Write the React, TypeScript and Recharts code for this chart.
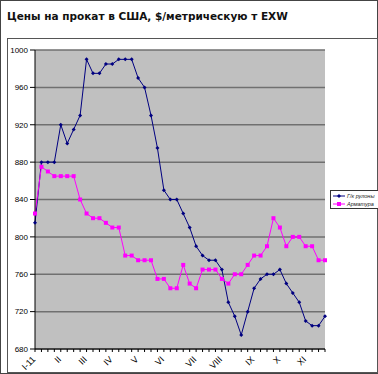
import { ComposedChart, Line, XAxis, YAxis, CartesianGrid } from 'recharts';

// weekly points, month label placed on the first week of each month
const months = [
  'I-11', '', '', '', 'II', '', '', '', 'III', '', '', '', 'IV', '', '', '',
  'V', '', '', '', 'VI', '', '', '', '', 'VII', '', '', '', 'VIII', '', '', '',
  '', 'IX', '', '', '', 'X', '', '', '', 'XI', '', '', '',
];

const rolls = [
  815, 880, 880, 880, 920, 900, 915, 930, 990, 975, 975, 985, 985, 990, 990, 990,
  970, 960, 930, 895, 850, 840, 840, 825, 810, 790, 780, 775, 775, 765, 730, 715,
  695, 720, 745, 755, 760, 760, 765, 750, 740, 730, 710, 705, 705, 715,
];

const rebar = [
  825, 875, 870, 865, 865, 865, 865, 840, 825, 820, 820, 815, 810, 810, 780, 780,
  775, 775, 775, 755, 755, 745, 745, 770, 750, 745, 765, 765, 765, 755, 750, 760,
  760, 770, 780, 780, 790, 820, 810, 790, 800, 800, 790, 790, 775, 775,
];

const yTicks = [680, 720, 760, 800, 840, 880, 920, 960, 1000];

const data = months.map((m, i) => ({ i, m, rolls: rolls[i], rebar: rebar[i] }));

const BLUE = '#000080';
const PINK = '#ff00ff';
const FONT = "'Liberation Sans', Arial, sans-serif";

function MonthTick({ x, y, payload }: any) {
  const label = months[payload.value];
  if (!label) return null;
  return (
    <text x={x + 1} y={y + 6} transform={`rotate(-45 ${x + 1} ${y + 6})`} textAnchor="end"
      fontSize={9} fontFamily={FONT} fill="#000">
      {label}
    </text>
  );
}

function Diamond({ cx, cy }: any) {
  if (cx == null || cy == null) return null;
  return <path d={`M${cx},${cy - 2} L${cx + 2},${cy} L${cx},${cy + 2} L${cx - 2},${cy} Z`} fill={BLUE} />;
}

function Square({ cx, cy }: any) {
  if (cx == null || cy == null) return null;
  return <rect x={cx - 2} y={cy - 2} width={4} height={4} fill={PINK} />;
}

const legend = [
  { name: 'Г/к рулоны', c: BLUE, sq: false },
  { name: 'Арматура', c: PINK, sq: true },
];

export default function App() {
  return (
    <div style={{ position: 'fixed', left: 0, top: 0, width: 378, height: 374, background: '#fff',
      boxSizing: 'border-box', border: '1px solid #444', fontFamily: FONT }}>
      <div style={{ position: 'absolute', left: 6, top: 9, fontFamily: "'DejaVu Sans', Verdana",
        fontSize: 10.5, fontWeight: 'bold', color: '#111', whiteSpace: 'nowrap' }}>
        Цены на прокат в США, $/метрическую т EXW
      </div>
      <div style={{ position: 'absolute', left: 6, top: 37, width: 371, height: 335,
        boxSizing: 'border-box', border: '1px solid #555' }}>
        <ComposedChart width={369} height={333} data={data}
          margin={{ top: 11, right: 52, left: 0, bottom: 0 }}>
          <CartesianGrid vertical={false} stroke="#707070" strokeWidth={1.5} fill="#c0c0c0" />
          <XAxis dataKey="i" type="category" interval={0} height={23} tick={<MonthTick />}
            tickSize={3} stroke="#000" tickLine={{ stroke: '#000' }} />
          <YAxis domain={[680, 1000]} ticks={yTicks} width={27} tickSize={5}
            stroke="#000" interval={0}
            tick={{ fontSize: 8, fill: '#000', fontFamily: FONT }} />
          <Line dataKey="rolls" type="linear" stroke={BLUE} strokeWidth={1} dot={<Diamond />}
            isAnimationActive={false} />
          <Line dataKey="rebar" type="linear" stroke={PINK} strokeWidth={1} dot={<Square />}
            isAnimationActive={false} />
        </ComposedChart>
      </div>
      <div style={{ position: 'absolute', left: 329, top: 189, width: 49, height: 19,
        boxSizing: 'border-box', border: '1px solid #333', background: '#fff',
        fontSize: 5.5, fontStyle: 'italic', color: '#222', lineHeight: '8px', paddingTop: 1 }}>
        {legend.map((e) => (
          <div key={e.name} style={{ display: 'flex', alignItems: 'center', whiteSpace: 'nowrap' }}>
            <svg width={12} height={8} style={{ marginLeft: 2, marginRight: 2, flexShrink: 0 }}>
              <line x1={0} y1={4} x2={12} y2={4} stroke={e.c} strokeWidth={1} />
              {e.sq ? <rect x={4} y={2} width={4} height={4} fill={e.c} />
                : <path d="M6,2 L8,4 L6,6 L4,4 Z" fill={e.c} />}
            </svg>
            {e.name}
          </div>
        ))}
      </div>
    </div>
  );
}
